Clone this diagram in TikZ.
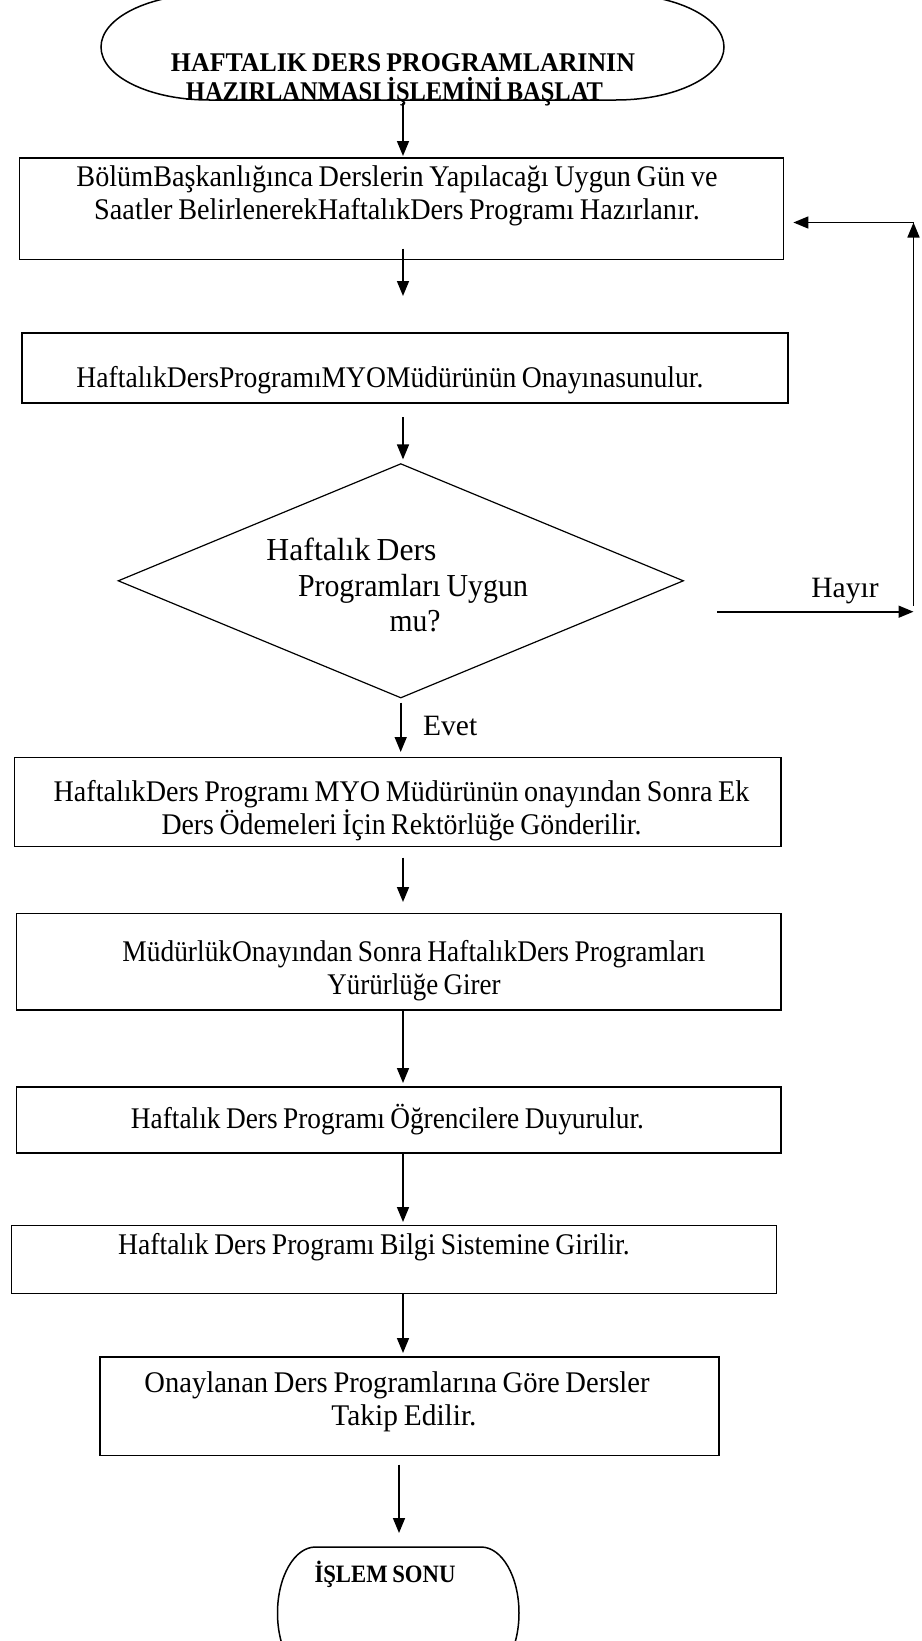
\documentclass[tikz,border=0pt]{standalone}
\usepackage{fontspec}
\usepackage{graphicx}
\setmainfont{Liberation Serif}[WordSpace=0.8]
\usetikzlibrary{arrows.meta,shapes.geometric,calc}
\newcommand\fitw[2]{\resizebox{#1pt}{\height}{#2}}
\begin{document}
\begin{tikzpicture}[x=1pt,y=-1pt,
  outl/.style={line width=1.5pt},
  box/.style={draw, line width=1.6pt, inner sep=0pt, anchor=north west},
  txt/.style={inner sep=0pt, align=center, font=\fontsize{30}{33}\selectfont},
  big/.style={inner sep=0pt, align=center, font=\fontsize{32}{35.5}\selectfont},
  lbl/.style={inner sep=0pt, font=\fontsize{29.5}{35.5}\selectfont},
  ttl/.style={inner sep=0pt, align=center, font=\fontsize{27}{29}\selectfont\bfseries},
  arr/.style={line width=1.6pt, -{Triangle[length=15pt,width=12pt]}},
]
\useasboundingbox (0,0) rectangle (921,1641);
\clip (0,0) rectangle (921,1641);
\fill[white] (0,0) rectangle (921,1641);

% start terminator
\draw[outl] (209,-6) -- (616,-6) arc[start angle=-90, end angle=90, x radius=108, y radius=53]
  -- (209,100) arc[start angle=90, end angle=270, x radius=108, y radius=53] -- cycle;
\node[ttl] (st) at (398.75,80) {\hspace*{8.5pt}\fitw{464}{HAFTALIK DERS PROGRAMLARININ}\\\fitw{417}{HAZIRLANMASI İŞLEMİNİ BAŞLAT}\hspace*{8.5pt}};
\coordinate (s) at (403,100);

% boxes
\node[box, minimum width=764, minimum height=101.5] (b1) at (18.8,157) {};
\node[box, minimum width=766, minimum height=70] (b2) at (21,332) {};
\node[diamond, draw, line width=1.2pt, minimum width=565.5, minimum height=234.4, inner sep=0pt] (d) at (400.8,580.8) {};
\node[box, minimum width=766.4, minimum height=89] (b3) at (13.6,756.7) {};
\node[box, minimum width=764.3, minimum height=96.4] (b4) at (15.7,912.6) {};
\node[box, minimum width=764.3, minimum height=66] (b5) at (15.7,1086) {};
\node[box, minimum width=765, minimum height=68.1] (b6) at (10.5,1224.5) {};
\node[box, minimum width=618.6, minimum height=98.4] (b7) at (99.4,1356.4) {};

% texts
\node[txt] (t1) at (397,196) {\fitw{641}{BölümBaşkanlığınca Derslerin Yapılacağı Uygun Gün ve}\\\fitw{605.5}{Saatler BelirlenerekHaftalıkDers Programı Hazırlanır.}};
\node[txt] (t2) at (390,380) {\fitw{627}{HaftalıkDersProgramıMYOMüdürünün Onayınasunulur.}};
\node[big] (dt) at (401,585) {\fitw{170}{Haftalık Ders}\hspace*{99pt}\\\hspace*{24pt}\fitw{230}{Programları Uygun}\\\hspace*{28pt}\fitw{51}{mu?}};
\node[txt] (t3) at (401.5,810.5) {\fitw{695.6}{HaftalıkDers Programı MYO Müdürünün onayından Sonra Ek}\\\fitw{480}{Ders Ödemeleri İçin Rektörlüğe Gönderilir.}};
\node[txt] (t4) at (414,970.5) {\fitw{583}{MüdürlükOnayından Sonra HaftalıkDers Programları}\\\fitw{173}{Yürürlüğe Girer}};
\node[txt] (t5) at (387.5,1120) {\fitw{513}{Haftalık Ders Programı Öğrencilere Duyurulur.}};
\node[txt] (t6) at (374,1247.5) {\fitw{511.5}{Haftalık Ders Programı Bilgi Sistemine Girilir.}};
\node[txt] (t7) at (397,1401.8) {\fitw{505}{Onaylanan Ders Programlarına Göre Dersler}\\\hspace*{14pt}\fitw{145}{Takip Edilir.}};
\node[lbl, anchor=base] (hayir) at (845,597) {Hayır};
\node[lbl, anchor=base west] (evet) at (423,735) {Evet};

% end terminator
\draw[outl] (315.5,1547) -- (481,1547) arc[start angle=-90, end angle=90, x radius=38, y radius=66]
  -- (315.5,1679) arc[start angle=90, end angle=270, x radius=38, y radius=66] -- cycle;
\node[inner sep=0pt, font=\fontsize{25}{27}\selectfont\bfseries, anchor=base] (et) at (385,1582) {\fitw{141}{İŞLEM SONU}};
\coordinate (e) at (399,1547);

% connectors
\coordinate (ax) at (403,0);
\coordinate (ex) at (400.7,0);
\draw[arr] ($(s)+(0,3)$) -- ($(b1.north -| s)+(0,-1)$);
\draw[arr] ($(b1.south -| ax)+(0,-11.5)$) -- ($(b2.north -| ax)+(0,-36)$);
\draw[arr] ($(b2.south -| ax)+(0,13.5)$) -- ($(d.north -| ax)+(0,-3.6)$);
\draw[arr] ($(d.south -| ex)+(0,4)$) -- ($(b3.north -| ex)+(0,-4.7)$);
\draw[arr] ($(b3.south -| ax)+(0,10.3)$) -- ($(b4.north -| ax)+(0,-10.6)$);
\draw[arr] (b4.south -| ax) -- ($(b5.north -| ax)+(0,-3)$);
\draw[arr] (b5.south -| ax) -- ($(b6.north -| ax)+(0,-2.5)$);
\draw[arr] (b6.south -| ax) -- ($(b7.north -| ax)+(0,-3.4)$);
\draw[arr] ($(b7.south -| e)+(0,8.2)$) -- ($(e)+(0,-14)$);

% Hayir loop
\coordinate (hr) at (913.5,611.7);
\coordinate (tr) at (913.5,222.5);
\draw[arr] ($(d.east)+(33,30.9)$) -- (hr);
\draw[arr] ($(tr)+(0,383)$) -- (tr);
\draw[arr] (tr) -- ($(tr -| b1.east)+(9,0)$);
\end{tikzpicture}
\end{document}
